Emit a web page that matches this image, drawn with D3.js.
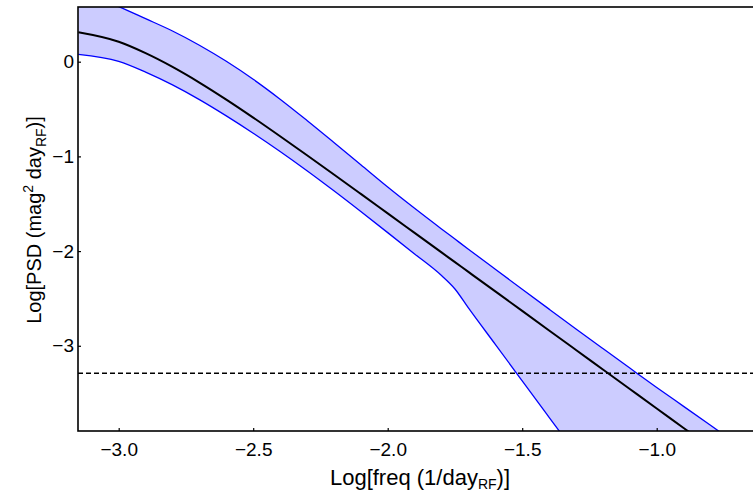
<!DOCTYPE html>
<html>
<head>
<meta charset="utf-8">
<script src="https://cdn.jsdelivr.net/npm/d3@7"></script>
<style>
  body { margin: 0; background: #fff; }
  svg text { font-family: "Liberation Sans", Arial, sans-serif; fill: #000; }
</style>
</head>
<body>
<div id="chart"></div>
<script>
// log frequency grid (1/day, rest frame)
var logFreq = [-3.15, -3.0, -2.9, -2.8, -2.7, -2.6, -2.5, -2.4, -2.3, -2.2, -2.1, -2.0,
  -1.9, -1.8, -1.75, -1.7, -1.6, -1.5, -1.4, -1.3, -1.2, -1.1, -1.0, -0.9, -0.8, -0.7];

// median PSD
var psdMid = [0.31, 0.21, 0.09, -0.055, -0.22, -0.40, -0.59, -0.787, -0.988, -1.191, -1.396, -1.602,
  -1.808, -2.014, -2.117, -2.22, -2.426, -2.632, -2.838, -3.044, -3.25, -3.456, -3.662, -3.868, -4.074, -4.28];

// upper bound of the band
var psdHigh = [0.743, 0.582, 0.454, 0.324, 0.174, 0.004, -0.186, -0.396, -0.621, -0.853, -1.088, -1.323,
  -1.548, -1.766, -1.873, -1.98, -2.192, -2.403, -2.613, -2.822, -3.029, -3.235, -3.44, -3.64, -3.84, -4.04];

// lower bound of the band
var psdLow = [0.077, 0.003, -0.11, -0.245, -0.40, -0.572, -0.755, -0.948, -1.151, -1.363, -1.582, -1.805,
  -2.03, -2.258, -2.40, -2.60, -2.985, -3.37, -3.755, -4.14, -4.525, -4.91, -5.3, -5.7, -6.1, -6.5];

// noise level (dashed)
var noiseLevel = -3.29;

var xTicks = [-3.0, -2.5, -2.0, -1.5, -1.0];
var yTicks = [0, -1, -2, -3];

var margin = { top: 7, right: 0, bottom: 64, left: 78 };
var width = 682;
var height = 424;

var svg = d3.select('#chart').append('svg')
  .attr('width', 753)
  .attr('height', 495)
  .append('g')
  .attr('transform', 'translate(' + margin.left + ',' + margin.top + ')');

var x = d3.scaleLinear().domain([-3.1513, -0.6160]).range([0, width]);
var y = d3.scaleLinear().domain([0.5776, -3.900]).range([0, height]);

svg.append('clipPath').attr('id', 'plotclip')
  .append('rect').attr('width', width).attr('height', height);

var data = logFreq.map(function(f, i) {
  return { f: f, mid: psdMid[i], hi: psdHigh[i], lo: psdLow[i] };
});

var area = d3.area()
  .x(function(d) { return x(d.f); })
  .y0(function(d) { return y(d.lo); })
  .y1(function(d) { return y(d.hi); })
  .curve(d3.curveMonotoneX);

var plot = svg.append('g').attr('clip-path', 'url(#plotclip)');

plot.append('path')
  .datum(data)
  .attr('d', area)
  .attr('fill', '#ccccff')
  .attr('stroke', 'none');

function curveLine(key) {
  return d3.line()
    .x(function(d) { return x(d.f); })
    .y(function(d) { return y(d[key]); })
    .curve(d3.curveMonotoneX);
}

plot.append('path').datum(data).attr('d', curveLine('hi'))
  .attr('fill', 'none').attr('stroke', '#0000ff').attr('stroke-width', 1.3);
plot.append('path').datum(data).attr('d', curveLine('lo'))
  .attr('fill', 'none').attr('stroke', '#0000ff').attr('stroke-width', 1.3);
plot.append('path').datum(data).attr('d', curveLine('mid'))
  .attr('fill', 'none').attr('stroke', '#000').attr('stroke-width', 2);

// dashed noise line
plot.append('line')
  .attr('x1', 0).attr('x2', width)
  .attr('y1', y(noiseLevel)).attr('y2', y(noiseLevel))
  .attr('stroke', '#000').attr('stroke-width', 1.3)
  .attr('stroke-dasharray', '5,3');

// axes with small inward ticks
var xAxis = d3.axisBottom(x).tickValues(xTicks).tickFormat(d3.format('.1f'))
  .tickSizeInner(-3).tickSizeOuter(0).tickPadding(12);
var yAxis = d3.axisLeft(y).tickValues(yTicks).tickFormat(d3.format('d'))
  .tickSizeInner(-3).tickSizeOuter(0).tickPadding(4);

var gx = svg.append('g').attr('transform', 'translate(0,' + height + ')').call(xAxis);
var gy = svg.append('g').call(yAxis);

[gx, gy].forEach(function(g) {
  g.select('.domain').remove();
  g.selectAll('.tick line').attr('stroke', '#000').attr('stroke-width', 1.2);
  g.selectAll('.tick text').style('font-size', '19px')
    .style('font-family', '"Liberation Sans", Arial, sans-serif');
});

// frame
svg.append('rect')
  .attr('width', width).attr('height', height)
  .attr('fill', 'none').attr('stroke', '#000').attr('stroke-width', 1.6);

// x label
var xl = svg.append('text')
  .attr('x', 342).attr('y', height + 54)
  .attr('text-anchor', 'middle')
  .style('font-size', '22px');
xl.append('tspan').text('Log[freq (1/day');
xl.append('tspan').attr('dy', 4).style('font-size', '14px').text('RF');
xl.append('tspan').attr('dy', -4).text(')]');

// y label
var yl = svg.append('text')
  .attr('transform', 'translate(-37,' + (height / 2 + 1) + ') rotate(-90)')
  .attr('text-anchor', 'middle')
  .style('font-size', '20px');
yl.append('tspan').text('Log[PSD (mag');
yl.append('tspan').attr('dy', -8).style('font-size', '14px').text('2');
yl.append('tspan').attr('dy', 8).text(' day');
yl.append('tspan').attr('dy', 5).style('font-size', '14px').text('RF');
yl.append('tspan').attr('dy', -5).text(')]');
</script>
</body>
</html>
